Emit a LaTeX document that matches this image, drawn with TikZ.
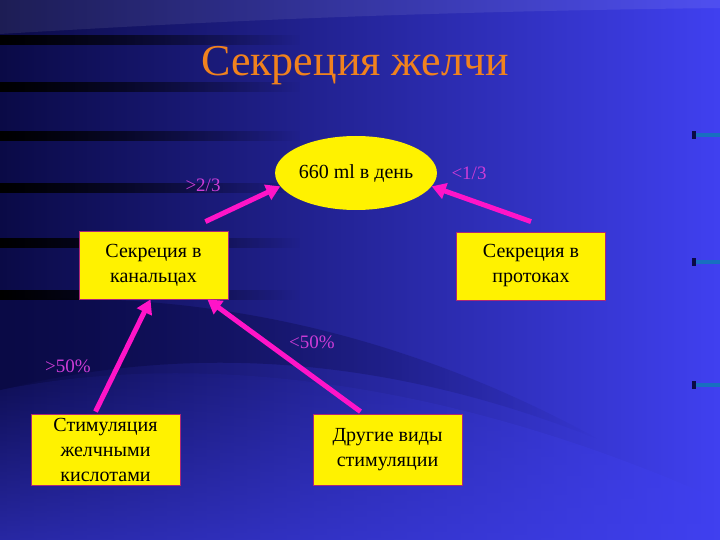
\documentclass[tikz,border=0pt]{standalone}
\usepackage{fontspec}
\setmainfont{Liberation Serif}
\usetikzlibrary{arrows.meta,shapes.geometric,fadings}

\definecolor{bgdark}{RGB}{10,10,70}
\definecolor{bgmid}{RGB}{38,38,175}
\definecolor{bglight}{RGB}{64,64,240}
\definecolor{titleor}{RGB}{240,130,30}
\definecolor{arrowpink}{RGB}{255,20,200}
\definecolor{labelpink}{RGB}{205,60,215}
\definecolor{boxedge}{RGB}{170,40,120}

\tikzset{
  box/.style={rectangle, draw=boxedge, line width=0.8pt, fill=yellow,
    minimum width=149pt, minimum height=68pt, align=center,
    font=\fontsize{20}{25}\selectfont},
  flow/.style={draw=arrowpink, line width=5pt, -{Triangle[length=14pt,width=16pt]}},
  share/.style={text=labelpink, font=\fontsize{19}{23}\selectfont},
}

\begin{document}
\begin{tikzpicture}[x=1pt,y=-1pt]
  \useasboundingbox (0,0) rectangle (720,540);
  % background
  \shade[left color=bgdark, middle color=bgmid, right color=bglight] (0,0) rectangle (720,540);
  \fill[white, opacity=0.08] (0,0) -- (720,0) -- (720,8) .. controls (400,12) and (200,22) .. (0,34) -- cycle;
  \fill[bglight, opacity=0.55, path fading=north] (0,390) .. controls (200,350) and (450,380) .. (720,500)
    -- (720,540) -- (0,540) -- cycle;
  \fill[bgdark, opacity=0.7, path fading=east] (0,300) .. controls (200,290) and (400,330) .. (600,440)
    .. controls (400,360) and (200,340) .. (0,390) -- cycle;
  \foreach \y in {40,87,136,188,243,295}
    \fill[black, path fading=east] (0,\y-5) rectangle (300,\y+5);
  \foreach \y in {135,262,385}{
    \fill[bgdark] (692,\y-4) rectangle (696,\y+4);
    \fill[cyan!50!blue] (696,\y-2) rectangle (720,\y+2);
  }

  % title
  \node[text=titleor, font=\fontsize{44}{50}\selectfont] (title) at (355,66) {Секреция желчи};

  % nodes
  \node[ellipse, fill=yellow, minimum width=136pt, minimum height=74pt, inner sep=0pt,
    font=\fontsize{20}{24}\selectfont] (day) at (356,173) {660 ml в день};
  \node[box] (kanal) at (153.5,265) {Секреция в\\канальцах};
  \node[box] (protok) at (531,266) {Секреция в\\протоках};
  \node[box, minimum height=71pt] (stim) at (105.5,449.5) {Стимуляция\\желчными\\кислотами};
  \node[box, minimum height=71pt] (other) at (387.5,449.5) {Другие виды\\стимуляции};

  % shares
  \node[share] (l23) at (203,185) {>2/3};
  \node[share] (l13) at (469,173) {<1/3};
  \node[share] (l50a) at (312,342) {<50\%};
  \node[share] (l50b) at (68,366) {>50\%};

  % arrows
  \draw[flow] ([xshift=-23pt,yshift=9pt]kanal.north east) -- (day.190);
  \draw[flow] ([yshift=10pt]protok.north) -- (day.-10);
  \draw[flow] ([xshift=-10pt,yshift=2pt]stim.north) -- ([xshift=-3pt]kanal.south);
  \draw[flow] ([xshift=-27pt,yshift=2pt]other.north) -- ([xshift=-21pt]kanal.south east);
\end{tikzpicture}
\end{document}
